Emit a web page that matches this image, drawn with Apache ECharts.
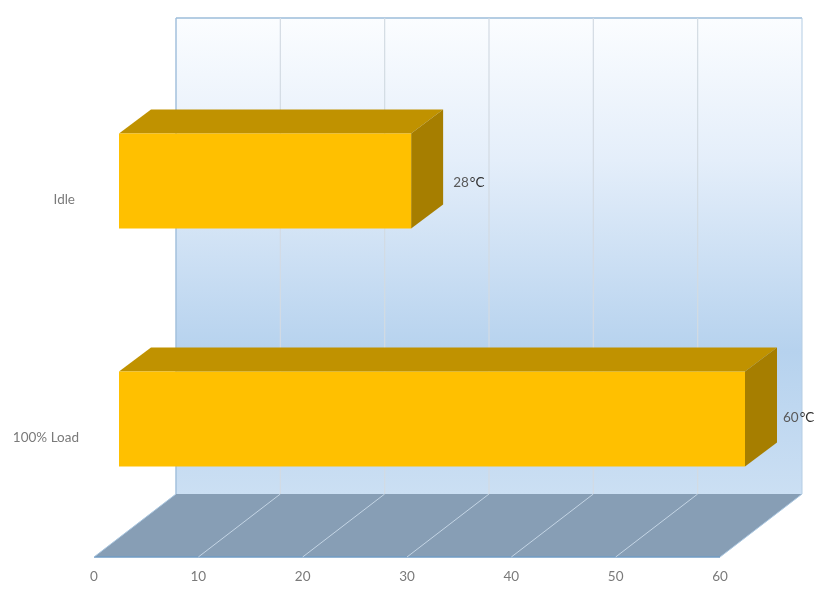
<!DOCTYPE html>
<html>
<head>
<meta charset="utf-8">
<style>html,body{margin:0;padding:0;background:#fff}#c{width:830px;height:598px}</style>
<script src="https://cdn.jsdelivr.net/npm/echarts@6/dist/echarts.min.js"></script>
</head>
<body>
<div id="c"></div>
<script>
const categories = ['100% Load', 'Idle'];
const temperatures = [60, 28];
const unit = '°C';
const xTicks = [0, 10, 20, 30, 40, 50, 60];

// 3D projection of the box (pixels)
const WALL = [82, -63];
const BAR_FRONT = [25, -19];
const BAR_DEPTH = [32, -24];
const BAR_RATIO = 0.4;
const LABEL_SHIFT = { 'Idle': [42, 2], '100% Load': [38, -1] };

const chart = echarts.init(document.getElementById('c'), null, { renderer: 'canvas' });

function poly(points, fill, z2, extra) {
  return Object.assign({
    type: 'polygon', z2: z2 || 0,
    shape: { points },
    style: Object.assign({ fill }, extra || {})
  });
}
function line(a, b, stroke, width, z2) {
  return { type: 'line', z2: z2 || 0,
    shape: { x1: a[0], y1: a[1], x2: b[0], y2: b[1] },
    style: { stroke, lineWidth: width, fill: null } };
}
const add = (p, d) => [p[0] + d[0], p[1] + d[1]];

function renderFrame(params) {
  const c = params.coordSys;
  const bl = [c.x, c.y + c.height], br = [c.x + c.width, c.y + c.height];
  const wbl = add(bl, WALL), wbr = add(br, WALL);
  const wtl = [wbl[0], c.y + WALL[1]], wtr = [wbr[0], c.y + WALL[1]];
  return { type: 'group', children: [
    { type: 'polygon', z2: 1, shape: { points: [wtl, wtr, wbr, wbl] },
      style: { fill: new echarts.graphic.LinearGradient(0, 0, 0, 1, [
        { offset: 0, color: '#fbfdff' },
        { offset: 0.3, color: '#e4eefa' },
        { offset: 0.7, color: '#b6d2ee' },
        { offset: 1, color: '#cbdff3' }
      ]) } },
    line(wbl, wtl, '#a3c1dc', 1.5, 3),
    line(wtl, wtr, '#9dbdda', 1.5, 3),
    line(wtr, wbr, '#b4cde4', 1, 3),
    poly([bl, br, wbr, wbl], '#879eb5', 4),
    line(bl, br, '#6f9bc4', 1.5, 5),
    line(br, wbr, '#a9c6e0', 1, 5),
    line(bl, wbl, '#a9c6e0', 1, 5)
  ] };
}

function renderTick(params, api) {
  const v = api.value(0);
  if (v === xTicks[0] || v === xTicks[xTicks.length - 1]) return { type: 'group', children: [] };
  const c = params.coordSys;
  const p = api.coord([v, 0]);
  const f = [p[0], c.y + c.height];
  const b = add(f, WALL);
  const t = [b[0], c.y + WALL[1]];
  return { type: 'group', children: [
    line(b, t, '#d3dbe3', 1.2, 2),
    line(f, b, '#c4d5e5', 1, 6)
  ] };
}

function renderBar(params, api) {
  const value = api.value(0), idx = api.value(1);
  const band = api.size([0, 1])[1];
  const h = band * BAR_RATIO;
  const start = add(api.coord([0, idx]), BAR_FRONT);
  const end = add(api.coord([value, idx]), BAR_FRONT);
  const tl = [start[0], start[1] - h / 2], tr = [end[0], end[1] - h / 2];
  const bl = [start[0], start[1] + h / 2], br = [end[0], end[1] + h / 2];
  const shift = LABEL_SHIFT[categories[idx]];
  return { type: 'group', children: [
    poly([tl, tr, add(tr, BAR_DEPTH), add(tl, BAR_DEPTH)], '#c09200', 10),
    poly([tr, br, add(br, BAR_DEPTH), add(tr, BAR_DEPTH)], '#a67e00', 10),
    poly([tl, tr, br, bl], '#ffc000', 11),
    { type: 'text', z2: 12,
      x: end[0] + shift[0], y: end[1] + shift[1],
      style: {
        text: '{v|' + value + '}{u|' + unit + '}',
        verticalAlign: 'middle', align: 'left',
        rich: {
          v: { fill: '#595959', font: '13.5px Lato' },
          u: { fill: '#2f2f2f', font: '13.5px Lato', padding: [0, 0, 0, 1] }
        }
      } }
  ] };
}

chart.setOption({
  animation: false,
  backgroundColor: '#ffffff',
  grid: { left: 94, right: 110, top: 81, bottom: 41, containLabel: false },
  xAxis: {
    type: 'value', min: 0, max: 60, interval: 10,
    axisLine: { show: false }, axisTick: { show: false }, splitLine: { show: false },
    axisLabel: { color: '#7a7a7a', fontFamily: 'Lato', fontSize: 13.5, margin: 13 }
  },
  yAxis: {
    type: 'category', data: categories,
    axisLine: { show: false }, axisTick: { show: false }, splitLine: { show: false },
    axisLabel: {
      color: '#7a7a7a', fontFamily: 'Lato', fontSize: 13.5, margin: 15,
      formatter: (name) => name === 'Idle' ? '{idle|' + name + '}' : name,
      rich: { idle: { color: '#7a7a7a', fontFamily: 'Lato', fontSize: 13.5, padding: [0, 4, 0, 0] } }
    }
  },
  series: [
    { type: 'custom', name: 'frame', renderItem: renderFrame, data: [[0, 0]], z: 1, silent: true },
    { type: 'custom', name: 'ticks', renderItem: renderTick, data: xTicks.map(t => [t, 0]), z: 2, silent: true },
    { type: 'custom', name: 'Temperature', renderItem: renderBar,
      data: temperatures.map((t, i) => [t, i]), z: 3,
      encode: { x: 0, y: 1 } }
  ]
});
</script>
</body>
</html>
